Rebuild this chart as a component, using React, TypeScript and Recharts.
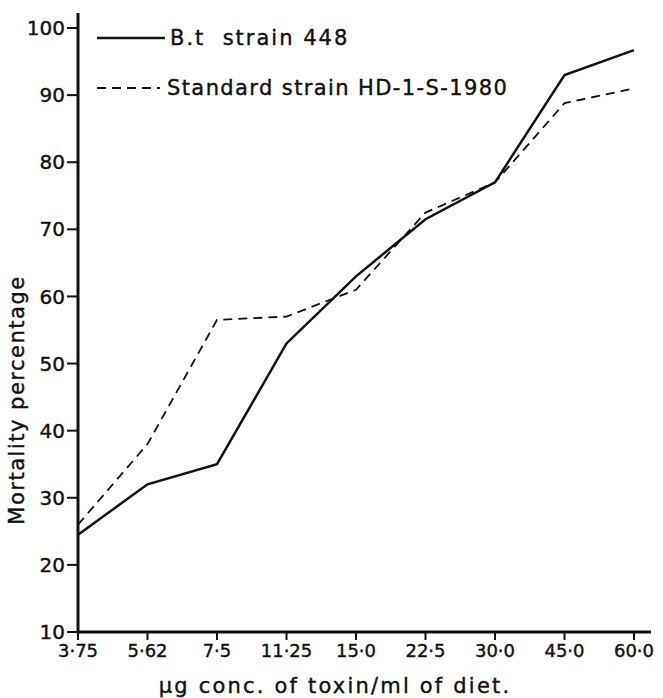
import React from 'react';
import { LineChart, Line, XAxis, YAxis, Legend } from 'recharts';

const doses = ['3·75', '5·62', '7·5', '11·25', '15·0', '22·5', '30·0', '45·0', '60·0'];
const strain448 = [24.5, 32, 35, 53, 63, 71.5, 77, 93, 96.7];
const standardStrain = [26, 38, 56.5, 57, 61, 72.5, 77, 88.8, 91];
const yTicks = [10, 20, 30, 40, 50, 60, 70, 80, 90, 100];

const data = doses.map((dose, i) => ({
  dose,
  bt448: strain448[i],
  standard: standardStrain[i],
}));

const FONT = '"DejaVu Sans", "Liberation Sans", sans-serif';
const INK = '#111';

const LegendBox = () => (
  <div style={{ fontFamily: FONT, fontSize: 21, color: INK, lineHeight: '24px', WebkitTextStroke: '0.4px #111' }}>
    <div style={{ display: 'flex', alignItems: 'center', height: 24 }}>
      <svg width={70} height={10}>
        <line x1={0} y1={5} x2={68} y2={5} stroke={INK} strokeWidth={2.5} />
      </svg>
      <span style={{ marginLeft: 3, whiteSpace: 'pre', letterSpacing: 2 }}>B.t  strain 448</span>
    </div>
    <div style={{ display: 'flex', alignItems: 'center', height: 24, marginTop: 26 }}>
      <svg width={68} height={10}>
        <line x1={0} y1={5} x2={63} y2={5} stroke={INK} strokeWidth={1.8} strokeDasharray="9 6" />
      </svg>
      <span style={{ marginLeft: 2, whiteSpace: 'pre', letterSpacing: 1.4 }}>Standard strain HD-1-S-1980</span>
    </div>
  </div>
);

export default function App() {
  return (
    <div style={{ position: 'absolute', left: 0, top: 0, background: '#fff' }}>
      <LineChart
        width={663}
        height={698}
        data={data}
        margin={{ top: 13, right: 12, bottom: 4, left: 18 }}
      >
        <XAxis
          dataKey="dose"
          height={62}
          padding={{ left: 0, right: 17 }}
          axisLine={{ stroke: INK, strokeWidth: 3 }}
          tickLine={{ stroke: INK, strokeWidth: 2 }}
          tickSize={8}
          tickMargin={4}
          tick={{ fill: INK, fontSize: 18, fontFamily: FONT, stroke: INK, strokeWidth: 0.4 }}
          interval={0}
          label={{
            content: (props: any) => {
              const vb = props.viewBox;
              return (
                <text
                  x={335}
                  y={vb.y + vb.height - 1}
                  textAnchor="middle"
                  fill={INK}
                  stroke={INK}
                  strokeWidth={0.4}
                  fontSize={21}
                  fontFamily={FONT}
                  letterSpacing={2.2}
                >
                  μg conc. of toxin/ml of diet.
                </text>
              );
            },
          }}
        />
        <YAxis
          domain={[10, 100]}
          ticks={yTicks}
          width={60}
          padding={{ top: 15 }}
          allowDataOverflow
          axisLine={{ stroke: INK, strokeWidth: 3 }}
          tickLine={{ stroke: INK, strokeWidth: 2 }}
          tickSize={11}
          tickMargin={2}
          tick={{ fill: INK, fontSize: 20, fontFamily: FONT, stroke: INK, strokeWidth: 0.4 }}
          label={{
            content: () => {
              const cy = 400;
              return (
                <text
                  x={17}
                  y={cy}
                  transform={`rotate(-90 17 ${cy})`}
                  textAnchor="middle"
                  dominantBaseline="central"
                  fill={INK}
                  stroke={INK}
                  strokeWidth={0.4}
                  fontSize={21}
                  fontFamily={FONT}
                  letterSpacing={1.5}
                >
                  Mortality percentage
                </text>
              );
            },
          }}
        />
        <Legend
          layout="vertical"
          align="center"
          verticalAlign="middle"
          wrapperStyle={{ left: 97, top: 26, width: 'auto' }}
          content={() => <LegendBox />}
        />
        <Line
          dataKey="bt448"
          stroke={INK}
          strokeWidth={2.5}
          dot={false}
          isAnimationActive={false}
        />
        <Line
          dataKey="standard"
          stroke={INK}
          strokeWidth={1.8}
          strokeDasharray="9 6"
          dot={false}
          isAnimationActive={false}
        />
      </LineChart>
    </div>
  );
}
